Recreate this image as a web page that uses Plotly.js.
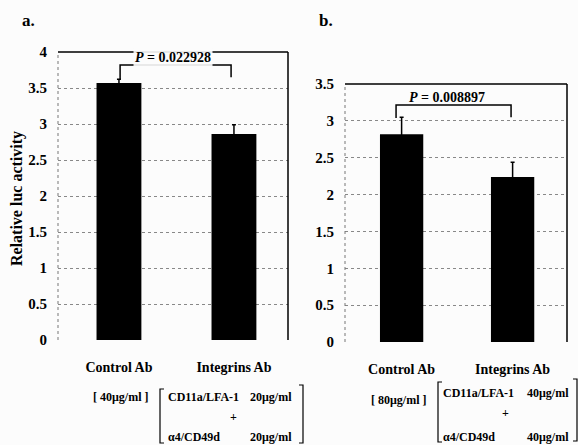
<!DOCTYPE html>
<html>
<head>
<meta charset="utf-8">
<script src="https://cdn.plot.ly/plotly-3.0.1.min.js"></script>
<style>html,body{margin:0;padding:0;background:#fcfcfc;}#chart{width:578px;height:445px;}</style>
</head>
<body>
<div id="chart"></div>
<script>
// ---- data ----
const categories = ["Control Ab", "Integrins Ab"];
const valuesA = [3.57, 2.86];
const errorsA = [0.05, 0.13];
const valuesB = [2.82, 2.24];
const errorsB = [0.23, 0.20];
const pValueA = "0.022928";
const pValueB = "0.008897";
const ticksA = [0, 0.5, 1, 1.5, 2, 2.5, 3, 3.5, 4];
const ticksB = [0, 0.5, 1, 1.5, 2, 2.5, 3, 3.5];
const tickTextA = ["0", "0.5", "1", "1.5", "2", "2.5", "3", "3.5", "4"];
const tickTextB = ["0", "0.5", "1", "1.5", "2", "2.5", "3", "3.5"];
const yTitle = "Relative luc activity";
const panelLabels = ["a.", "b."];
const controlDoseA = "[ 40μg/ml ]";
const controlDoseB = "[ 80μg/ml ]";
const integrinNames = ["CD11a/LFA-1", "α4/CD49d"];
const integrinDoseA = ["20μg/ml", "20μg/ml"];
const integrinDoseB = ["40μg/ml", "40μg/ml"];

const FONT = '"Liberation Serif", "Times New Roman", serif';
const W = 578, H = 445;
const px = v => v / W;
const py = v => 1 - v / H;

const traces = [
  {type: 'bar', x: categories, y: valuesA, xaxis: 'x', yaxis: 'y',
   marker: {color: '#000'},
   error_y: {type: 'data', array: errorsA, visible: true, color: '#000', thickness: 1.5, width: 2}},
  {type: 'bar', x: categories, y: valuesB, xaxis: 'x2', yaxis: 'y2',
   marker: {color: '#000'},
   error_y: {type: 'data', array: errorsB, visible: true, color: '#000', thickness: 1.5, width: 2}}
];

const xCommon = {
  type: 'category', showgrid: false, zeroline: false, showline: false,
  ticks: 'outside', ticklen: 14, tickcolor: 'rgba(0,0,0,0)',
  tickfont: {family: FONT, size: 14, color: '#000', weight: 'bold'}
};
const yCommon = {
  showgrid: true, gridcolor: '#888', griddash: 'dot', gridwidth: 1,
  zeroline: false, showline: false,
  ticks: 'outside', ticklen: 7, tickcolor: 'rgba(0,0,0,0)',
  tickfont: {family: FONT, size: 15, color: '#000', weight: 'bold'}
};

function frame(xr, yr) {
  return [
    {type: 'line', xref: xr + ' domain', yref: yr + ' domain', x0: 0, x1: 1, y0: 1, y1: 1, line: {color: '#000', width: 1.5}},
    {type: 'line', xref: xr + ' domain', yref: yr + ' domain', x0: 1, x1: 1, y0: 0, y1: 1, line: {color: '#000', width: 1.5}},
    {type: 'line', xref: xr + ' domain', yref: yr + ' domain', x0: 0, x1: 0, y0: 0, y1: 1, line: {color: '#777', width: 1, dash: 'dot'}}
  ];
}
function pBracket(xr, yr, xl, xrgt, yTop, yl, yrLeg) {
  return {type: 'path', xref: xr, yref: yr,
    path: `M ${xl} ${yl} L ${xl} ${yTop} L ${xrgt} ${yTop} L ${xrgt} ${yrLeg}`,
    line: {color: '#000', width: 1.5}};
}
function sqBracket(x, yTop, yBot, dir) {
  const d = 4 * dir;
  return {type: 'path', xref: 'paper', yref: 'paper',
    path: `M ${px(x + d)} ${py(yTop)} L ${px(x)} ${py(yTop)} L ${px(x)} ${py(yBot)} L ${px(x + d)} ${py(yBot)}`,
    line: {color: '#000', width: 1.2}};
}

const shapes = [].concat(
  frame('x', 'y'), frame('x2', 'y2'),
  [pBracket('x', 'y', 0.01, 0.975, 3.82, 3.625, 3.65),
   pBracket('x2', 'y2', -0.05, 0.986, 3.215, 3.04, 3.05),
   sqBracket(160, 389, 443, 1),
   sqBracket(303, 385, 443, -1),
   sqBracket(438, 382, 442, 1),
   sqBracket(577, 379, 441, -1)]
);

const txt = (text, x, y, size, anchor, extra) => Object.assign({
  text: text, xref: 'paper', yref: 'paper', x: px(x), y: py(y),
  xanchor: anchor || 'center', yanchor: 'middle', showarrow: false,
  font: {family: FONT, size: size, color: '#000', weight: 'bold'}
}, extra || {});

const annotations = [
  txt(panelLabels[0], 28, 20, 17),
  txt(panelLabels[1], 326, 20, 17),
  txt(yTitle, 17, 199, 16, 'center', {textangle: -90}),
  {text: '<i>P</i> = ' + pValueA, xref: 'x', yref: 'y', x: 0.47, y: 3.93, showarrow: false,
   bgcolor: 'rgba(252,252,252,0.9)', font: {family: FONT, size: 14, color: '#000', weight: 'bold'}},
  {text: '<i>P</i> = ' + pValueB, xref: 'x2', yref: 'y2', x: 0.41, y: 3.32, showarrow: false,
   font: {family: FONT, size: 14, color: '#000', weight: 'bold'}},
  txt(controlDoseA, 120, 397, 12),
  txt(integrinNames[0], 166, 397, 12, 'left'),
  txt(integrinDoseA[0], 294, 397, 12, 'right'),
  txt('+', 233, 417, 12),
  txt(integrinNames[1], 166, 437, 12, 'left'),
  txt(integrinDoseA[1], 294, 437, 12, 'right'),
  txt(controlDoseB, 398, 400, 12),
  txt(integrinNames[0], 441, 393, 12, 'left'),
  txt(integrinDoseB[0], 571, 393, 12, 'right'),
  txt('+', 505, 413, 12),
  txt(integrinNames[1], 441, 437, 12, 'left'),
  txt(integrinDoseB[1], 571, 437, 12, 'right')
];

const layout = {
  width: W, height: H,
  margin: {l: 0, r: 0, t: 0, b: 0},
  paper_bgcolor: '#fcfcfc', plot_bgcolor: '#fcfcfc',
  showlegend: false, bargap: 0.61,
  xaxis: Object.assign({}, xCommon, {domain: [px(58), px(288)], range: [-0.53, 1.47], anchor: 'y'}),
  yaxis: Object.assign({}, yCommon, {domain: [py(340), py(52)], range: [0, 4], tickvals: ticksA, ticktext: tickTextA, anchor: 'x'}),
  xaxis2: Object.assign({}, xCommon, {domain: [px(345), px(567)], range: [-0.51, 1.49], anchor: 'y2'}),
  yaxis2: Object.assign({}, yCommon, {domain: [py(342), py(84)], range: [0, 3.5], tickvals: ticksB, ticktext: tickTextB, anchor: 'x2'}),
  shapes: shapes,
  annotations: annotations
};

Plotly.newPlot('chart', traces, layout, {displayModeBar: false, staticPlot: true});
</script>
</body>
</html>
